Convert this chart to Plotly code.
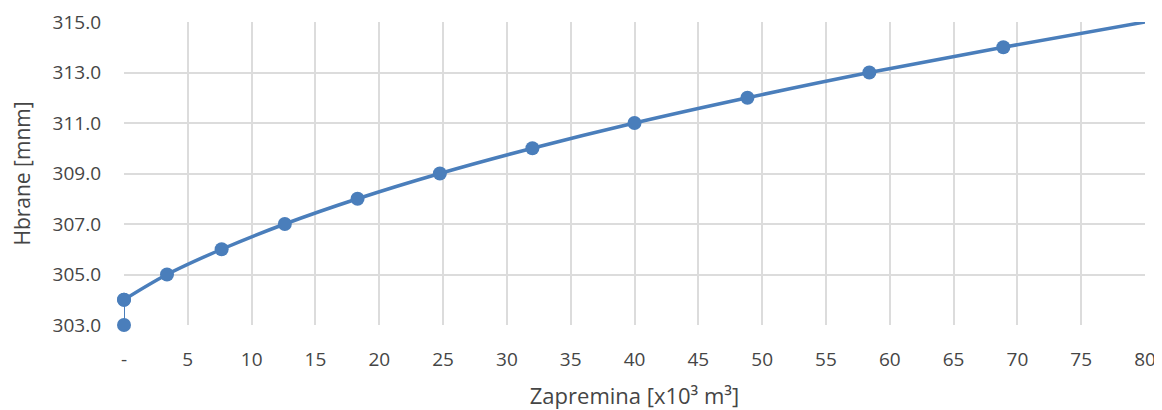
import plotly.graph_objects as go

# zapremina [x10^3 m3] i kota [mnm]
zapremina = [0.0, 0.0, 3.37, 7.65, 12.6, 18.3, 24.75, 32.0, 40.0, 48.85, 58.4, 68.9, 80.0]
kota = [303, 304, 305, 306, 307, 308, 309, 310, 311, 312, 313, 314, 315]
x_ticks = [0, 5, 10, 15, 20, 25, 30, 35, 40, 45, 50, 55, 60, 65, 70, 75, 80]
x_labels = ['-'] + [str(v) for v in x_ticks[1:]]
y_ticks = [303, 305, 307, 309, 311, 313, 315]

blue = '#4A7EBB'
txt = '#454545'
grid = '#DCDCDC'
font = 'Open Sans, sans-serif'

# posljednja tacka (80, 315) je u uglu okvira, bez markera
sizes = [14] * (len(kota) - 1) + [0]

fig = go.Figure()
# vertikalni pocetak krive (x = 0)
fig.add_trace(go.Scatter(
    x=zapremina[:2],
    y=kota[:2],
    mode='lines+markers',
    line=dict(color=blue, width=2),
    marker=dict(color=blue, size=sizes[:2], opacity=1, line=dict(width=0)),
    cliponaxis=False,
    showlegend=False,
))
fig.add_trace(go.Scatter(
    x=zapremina[1:],
    y=kota[1:],
    mode='lines+markers',
    line=dict(color=blue, width=3.5, shape='spline', smoothing=1.0),
    marker=dict(color=blue, size=sizes[1:], opacity=1, line=dict(width=0)),
    cliponaxis=False,
    showlegend=False,
))

# stranica ima 8px margine u pregledniku
fig.update_layout(
    width=1154,
    height=402,
    margin=dict(l=116, r=17, t=14, b=85),
    plot_bgcolor='white',
    paper_bgcolor='white',
    font=dict(family=font, size=19, color=txt),
    xaxis=dict(
        range=[0, 80],
        tickvals=x_ticks,
        ticktext=x_labels,
        showgrid=True,
        gridcolor=grid,
        gridwidth=1.5,
        zeroline=False,
        showline=False,
        ticks='',
        automargin=False,
        ticklabelstandoff=21,
        title=dict(text='Zapremina [x10³ m³]', standoff=18, font=dict(size=22, color=txt)),
    ),
    yaxis=dict(
        range=[303, 315],
        tickvals=y_ticks,
        tickformat='.1f',
        showgrid=True,
        gridcolor=grid,
        gridwidth=1.5,
        zeroline=False,
        showline=False,
        ticks='',
        automargin=False,
        ticklabelstandoff=22,
        title=dict(text='Hbrane [mnm]', standoff=22, font=dict(size=21, color=txt)),
    ),
)

fig.write_html("out.html")
